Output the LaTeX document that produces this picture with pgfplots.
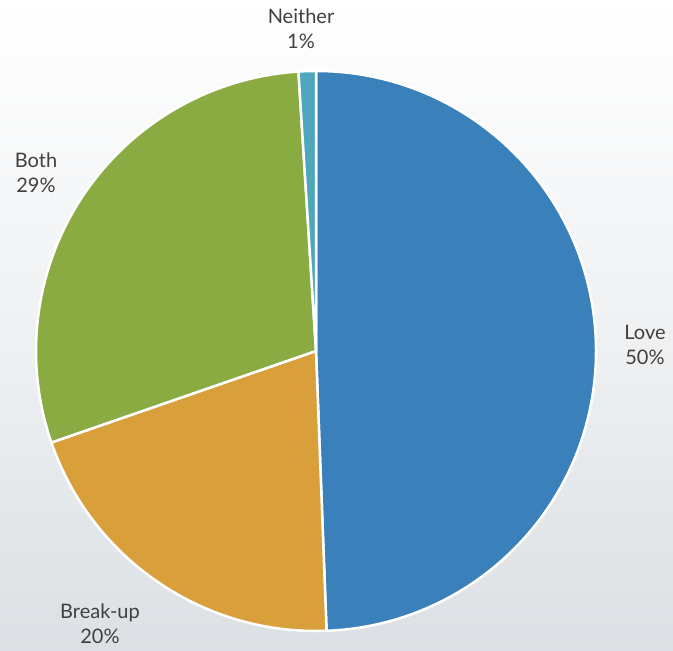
\documentclass[border=0pt]{standalone}
\usepackage{pgfplots}
\usepackage{pgfplotstable}
\pgfplotsset{compat=1.18}
\usepackage{fontspec}
\setmainfont{Lato}
\definecolor{cLove}{RGB}{58,128,187}
\definecolor{cBreak}{RGB}{217,159,58}
\definecolor{cBoth}{RGB}{138,170,66}
\definecolor{cNeither}{RGB}{80,166,186}
\definecolor{cText}{RGB}{64,64,64}
\definecolor{cBgBot}{RGB}{220,224,228}
\pgfplotstableread{
label value
Love 49.4
Breakup 20.3
Both 29.3
Neither 1.0
}\piedata
\begin{document}%
\begin{tikzpicture}
\pgfplotstablegetelem{0}{value}\of\piedata\let\vA\pgfplotsretval
\pgfplotstablegetelem{1}{value}\of\piedata\let\vB\pgfplotsretval
\pgfplotstablegetelem{2}{value}\of\piedata\let\vC\pgfplotsretval
\pgfplotstablegetelem{3}{value}\of\piedata\let\vD\pgfplotsretval
\pgfmathsetmacro{\aA}{90}
\pgfmathsetmacro{\aB}{\aA-3.6*\vA}
\pgfmathsetmacro{\aC}{\aB-3.6*\vB}
\pgfmathsetmacro{\aD}{\aC-3.6*\vC}
\pgfmathsetmacro{\aE}{\aD-3.6*\vD}
\def\cx{316}\def\cy{300}\def\R{280}
\begin{axis}[scale only axis, width=673bp, height=651bp,
  xmin=0, xmax=673, ymin=0, ymax=651, hide axis, clip=false]
\fill[top color=white, bottom color=cBgBot, middle color=white!55!cBgBot] (axis cs:0,0) rectangle (axis cs:673,651);
\begin{scope}
\clip (axis cs:0,0) rectangle (axis cs:673,651);
\fill[cLove, draw=white, line width=2.5bp, line join=round]
  (axis cs:\cx,\cy) -- (axis cs:{\cx+\R*cos(\aA)},{\cy+\R*sin(\aA)}) arc[start angle=\aA, end angle=\aB, radius=\R bp] -- cycle;
\fill[cBreak, draw=white, line width=2.5bp, line join=round]
  (axis cs:\cx,\cy) -- (axis cs:{\cx+\R*cos(\aB)},{\cy+\R*sin(\aB)}) arc[start angle=\aB, end angle=\aC, radius=\R bp] -- cycle;
\fill[cBoth, draw=white, line width=2.5bp, line join=round]
  (axis cs:\cx,\cy) -- (axis cs:{\cx+\R*cos(\aC)},{\cy+\R*sin(\aC)}) arc[start angle=\aC, end angle=\aD, radius=\R bp] -- cycle;
\fill[cNeither, draw=white, line width=2.5bp, line join=round]
  (axis cs:\cx,\cy) -- (axis cs:{\cx+\R*cos(\aD)},{\cy+\R*sin(\aD)}) arc[start angle=\aD, end angle=\aE, radius=\R bp] -- cycle;
\end{scope}
\tikzset{lbl/.style={text=cText, font=\fontsize{20bp}{25bp}\selectfont, align=center, inner sep=0pt}}
\node[lbl] at (axis cs:301,622) {Neither\\1\%};
\node[lbl] at (axis cs:36,478) {Both\\29\%};
\node[lbl] at (axis cs:645,306) {Love\\50\%};
\node[lbl] at (axis cs:100,27) {Break-up\\20\%};
\end{axis}
\end{tikzpicture}%
\end{document}
